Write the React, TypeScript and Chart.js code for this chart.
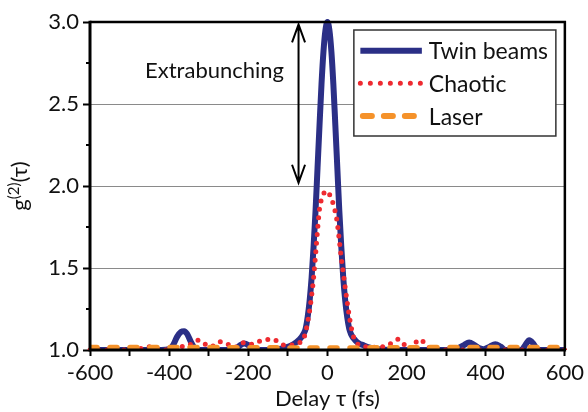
import React, { useEffect, useRef } from "react";
import { Chart, registerables } from "chart.js";

Chart.register(...registerables);

// ---- data ----
const TWIN_TAU = [-600, -500, -420, -400, -390, -380, -370, -362, -355, -345, -335, -325, -300, -250, -230, -220, -210, -200, -190, -180, -160, -130, -115, -100, -90, -80, -70, -60, -55, -50, -45, -40, -35, -30, -25, -20, -15, -10, -5, 0, 5, 10, 15, 20, 25, 30, 35, 40, 45, 50, 55, 60, 70, 80, 90, 100, 115, 130, 160, 300, 330, 345, 358, 372, 385, 395, 410, 424, 438, 450, 490, 500, 510, 520, 530, 540, 600];
const TWIN_G = [1.0, 1.0, 1.0, 1.005, 1.03, 1.08, 1.11, 1.115, 1.1, 1.05, 1.01, 1.0, 1.0, 1.0, 1.01, 1.03, 1.04, 1.03, 1.01, 1.0, 1.0, 1.005, 1.01, 1.02, 1.03, 1.045, 1.065, 1.1, 1.13, 1.2, 1.3, 1.44, 1.63, 1.85, 2.11, 2.37, 2.62, 2.82, 2.95, 3.0, 2.95, 2.82, 2.62, 2.37, 2.11, 1.85, 1.63, 1.44, 1.3, 1.2, 1.13, 1.095, 1.06, 1.04, 1.03, 1.02, 1.01, 1.005, 1.0, 1.0, 1.01, 1.03, 1.045, 1.03, 1.01, 1.005, 1.02, 1.035, 1.02, 1.0, 1.0, 1.03, 1.06, 1.04, 1.005, 1.0, 1.0];

const CHAOTIC_TAU = [-600, -520, -480, -460, -450, -440, -420, -400, -385, -370, -350, -335, -325, -315, -305, -295, -285, -272, -260, -248, -235, -225, -212, -200, -190, -175, -160, -145, -132, -120, -110, -100, -90, -80, -70, -62, -55, -50, -45, -40, -35, -30, -25, -20, -15, -8, -3, 5, 12, 18, 24, 30, 35, 40, 45, 50, 55, 60, 66, 72, 80, 95, 110, 125, 140, 150, 165, 178, 190, 205, 218, 232, 245, 260, 280, 600];
const CHAOTIC_G = [1.0, 1.0, 1.005, 1.015, 1.02, 1.015, 1.0, 1.0, 1.01, 1.02, 1.03, 1.05, 1.06, 1.045, 1.03, 1.02, 1.03, 1.05, 1.045, 1.03, 1.015, 1.03, 1.045, 1.04, 1.035, 1.05, 1.06, 1.065, 1.06, 1.04, 1.03, 1.03, 1.03, 1.035, 1.045, 1.06, 1.11, 1.17, 1.24, 1.33, 1.44, 1.58, 1.73, 1.86, 1.92, 1.96, 1.97, 1.95, 1.91, 1.86, 1.79, 1.67, 1.56, 1.47, 1.38, 1.29, 1.21, 1.14, 1.08, 1.05, 1.03, 1.02, 1.02, 1.015, 1.02, 1.03, 1.045, 1.065, 1.045, 1.005, 1.03, 1.065, 1.045, 1.01, 1.0, 1.0];

const LASER_TAU = [-600, -300, 0, 300, 600];
const LASER_G = [1.015, 1.015, 1.012, 1.015, 1.015];

const SERIES_NAMES = ["Twin beams", "Chaotic", "Laser"];
const SERIES_COLORS = ["#2b2f86", "#ee2a30", "#f5922a"];

const X_MIN = -600, X_MAX = 600, X_STEP = 100, X_LABEL_STEP = 200;
const Y_MIN = 1.0, Y_MAX = 3.0, Y_STEP = 0.5;
const Y_MINOR = [1.25, 1.75, 2.25, 2.75];
const ARROW_TAU = -73;
const ARROW_FROM = 2.02, ARROW_TO = 2.985;
const ANNOT_TEXT = "Extrabunching";
const X_TITLE = "Delay τ (fs)";

const FONT = 'Lato, "DejaVu Sans", sans-serif';

const pts = (xs: number[], ys: number[]) => xs.map((x, i) => ({ x, y: ys[i] }));

const decorPlugin = {
  id: "decor",
  afterDatasetsDraw(chart: any) {
    const { ctx, chartArea: a, scales } = chart;
    const x = scales.x, y = scales.y;
    ctx.save();
    // frame
    ctx.strokeStyle = "#000";
    ctx.lineCap = "butt";
    ctx.lineWidth = 2.5;
    ctx.beginPath();
    ctx.moveTo(a.left, a.top);
    ctx.lineTo(a.right, a.top);
    ctx.lineTo(a.right, a.bottom);
    ctx.stroke();
    ctx.lineWidth = 3;
    ctx.beginPath();
    ctx.moveTo(a.left, a.top - 1.25);
    ctx.lineTo(a.left, a.bottom);
    ctx.lineTo(a.right + 1.25, a.bottom);
    ctx.stroke();
    // minor y ticks
    ctx.lineWidth = 2;
    Y_MINOR.forEach((v) => {
      const py = y.getPixelForValue(v);
      ctx.beginPath();
      ctx.moveTo(a.left - 4, py);
      ctx.lineTo(a.left, py);
      ctx.stroke();
    });
    // double arrow
    const ax = x.getPixelForValue(ARROW_TAU);
    const ay1 = y.getPixelForValue(ARROW_TO);
    const ay2 = y.getPixelForValue(ARROW_FROM);
    ctx.lineWidth = 2;
    ctx.beginPath();
    ctx.moveTo(ax, ay1);
    ctx.lineTo(ax, ay2);
    ctx.moveTo(ax - 6.5, ay1 + 18);
    ctx.lineTo(ax, ay1);
    ctx.lineTo(ax + 6.5, ay1 + 18);
    ctx.moveTo(ax - 6.5, ay2 - 18);
    ctx.lineTo(ax, ay2);
    ctx.lineTo(ax + 6.5, ay2 - 18);
    ctx.stroke();
    // annotation text
    ctx.fillStyle = "#111";
    ctx.font = `22px ${FONT}`;
    ctx.textAlign = "center";
    ctx.textBaseline = "alphabetic";
    ctx.fillText(ANNOT_TEXT, ax - 84, a.top + 56);
    // legend
    const bx = a.right - 211, by = a.top + 8, bw = 202, bh = 106;
    ctx.fillStyle = "#fff";
    ctx.fillRect(bx, by, bw, bh);
    ctx.strokeStyle = "#333";
    ctx.lineWidth = 1.5;
    ctx.strokeRect(bx, by, bw, bh);
    const rowY = [by + 20.7, by + 53.3, by + 86];
    const dashes = [[], [0, 10], [9, 12]];
    const widths = [6, 5, 6];
    const caps = ["butt", "round", "round"];
    SERIES_NAMES.forEach((name, i) => {
      ctx.save();
      ctx.strokeStyle = SERIES_COLORS[i];
      ctx.lineWidth = widths[i];
      ctx.lineCap = caps[i];
      ctx.setLineDash(dashes[i]);
      ctx.beginPath();
      ctx.moveTo(bx + (i === 2 ? 9 : 6.5), rowY[i]);
      ctx.lineTo(bx + 68, rowY[i]);
      ctx.stroke();
      ctx.restore();
      ctx.fillStyle = "#111";
      ctx.font = `23px ${FONT}`;
      ctx.textAlign = "left";
      ctx.textBaseline = "alphabetic";
      ctx.fillText(name, bx + 75, rowY[i] + 8.5);
    });
    ctx.restore();
  },
  afterDraw(chart: any) {
    const { ctx, chartArea: a } = chart;
    ctx.save();
    const cy = (a.top + a.bottom) / 2;
    ctx.translate(27, cy);
    ctx.rotate(-Math.PI / 2);
    ctx.fillStyle = "#111";
    ctx.textBaseline = "alphabetic";
    ctx.textAlign = "left";
    ctx.font = `22px ${FONT}`;
    const wg = ctx.measureText("g").width;
    const wt = ctx.measureText("(τ)").width;
    ctx.font = `15px ${FONT}`;
    const ws = ctx.measureText("(2)").width;
    let sx = -(wg + ws + wt) / 2;
    ctx.font = `22px ${FONT}`;
    ctx.fillText("g", sx, 0);
    ctx.font = `15px ${FONT}`;
    ctx.fillText("(2)", sx + wg, -8);
    ctx.font = `22px ${FONT}`;
    ctx.fillText("(τ)", sx + wg + ws, 0);
    ctx.restore();
  },
};

export default function App() {
  const ref = useRef<HTMLCanvasElement | null>(null);
  useEffect(() => {
    if (!ref.current) return;
    const chart = new Chart(ref.current, {
      type: "line",
      data: {
        datasets: [
          {
            label: SERIES_NAMES[0],
            data: pts(TWIN_TAU, TWIN_G),
            borderColor: SERIES_COLORS[0],
            borderWidth: 6,
            pointRadius: 0,
            cubicInterpolationMode: "monotone",
            order: 3,
            clip: { left: 4, right: 4, top: 4, bottom: 0 },
          },
          {
            label: SERIES_NAMES[1],
            data: pts(CHAOTIC_TAU, CHAOTIC_G),
            borderColor: SERIES_COLORS[1],
            borderWidth: 5,
            borderDash: [0, 8.5],
            borderCapStyle: "round",
            pointRadius: 0,
            cubicInterpolationMode: "monotone",
            order: 2,
            clip: { left: 4, right: 4, top: 4, bottom: 0 },
          },
          {
            label: SERIES_NAMES[2],
            data: pts(LASER_TAU, LASER_G),
            borderColor: SERIES_COLORS[2],
            borderWidth: 5.5,
            borderDash: [7, 13],
            borderCapStyle: "round",
            pointRadius: 0,
            order: 1,
            clip: { left: 0, right: 0, top: 4, bottom: 0 },
          },
        ] as any,
      },
      options: {
        responsive: false,
        animation: false,
        events: [],
        layout: { padding: { top: 22, right: 20, bottom: 0, left: 0 } },
        plugins: { legend: { display: false }, tooltip: { enabled: false } },
        scales: {
          x: {
            type: "linear",
            min: X_MIN,
            max: X_MAX,
            afterFit: (s: any) => { s.height = 62; },
            border: { display: false },
            grid: { drawOnChartArea: false, tickLength: 6, tickWidth: 2, tickColor: "#000", color: "#000" },
            ticks: {
              stepSize: X_STEP,
              autoSkip: false,
              maxRotation: 0,
              padding: 4,
              color: "#111",
              font: { family: FONT, size: 22 },
              callback: (v: any) => (Number(v) % X_LABEL_STEP === 0 ? String(v) : ""),
            },
            title: { display: true, text: X_TITLE, color: "#111", font: { family: FONT, size: 22 }, padding: { top: 0, bottom: 0 } },
          },
          y: {
            type: "linear",
            min: Y_MIN,
            max: Y_MAX,
            afterFit: (s: any) => { s.width = 90; },
            border: { display: false },
            grid: {
              tickLength: 7,
              tickWidth: 2,
              tickColor: "#000",
              lineWidth: 1,
              color: (c: any) => (c.tick && c.tick.value > Y_MIN + 1e-6 && c.tick.value < Y_MAX - 1e-6 ? "#8a8a8a" : "rgba(0,0,0,0)"),
            },
            ticks: {
              stepSize: Y_STEP,
              padding: 4,
              color: "#111",
              font: { family: FONT, size: 22 },
              callback: (v: any) => Number(v).toFixed(1),
            },
          },
        },
      } as any,
      plugins: [decorPlugin],
    });
    return () => chart.destroy();
  }, []);
  return (
    <div style={{ position: "absolute", left: 0, top: 0, width: 588, height: 412, background: "#fff" }}>
      <canvas ref={ref} width={588} height={412} style={{ display: "block" }} />
    </div>
  );
}
